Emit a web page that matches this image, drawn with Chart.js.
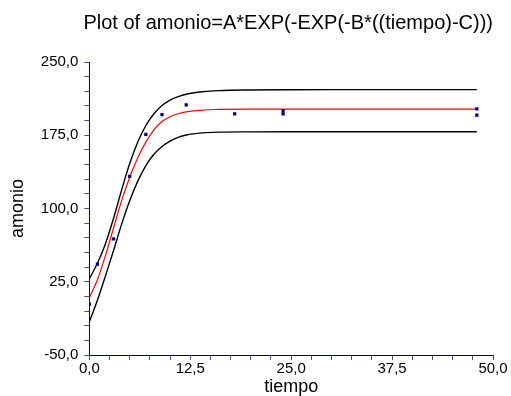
<!DOCTYPE html>
<html>
<head>
<meta charset="utf-8">
<script src="https://cdn.jsdelivr.net/npm/chart.js@4"></script>
<style>
  body { margin: 0; background: #fff; }
  #wrap { width: 511px; height: 396px; }
</style>
</head>
<body>
<div id="wrap"><canvas id="myChart"></canvas></div>
<script>
// observed points
var tiempo = [0, 1, 3, 5, 7, 9, 12, 18, 24, 24, 48, 48];
var amonio = [2, 43, 69, 133, 176, 196, 206, 197, 200, 197, 202, 195.5];

// fitted curve and its bands
var tCurve = [0, 1, 2, 3, 4, 5, 6, 7, 8, 9, 10, 11, 12, 14, 16, 20, 25, 30, 40, 48];
var fitCurve = [8.6, 27, 52, 80, 108, 132, 152, 168, 180.5, 189, 194, 197, 199, 200.8, 201.4, 201.7, 201.8, 201.8, 201.8, 201.8];
var upperCurve = [28, 44, 64, 90, 119, 146, 168, 185, 197, 205.5, 211, 214.5, 217, 219.5, 220.7, 221.4, 221.6, 221.7, 221.7, 221.7];
var lowerCurve = [-16, 6, 31, 57, 84, 108, 128, 144, 155.5, 163.5, 169, 172.8, 175.2, 177.4, 178.2, 178.5, 178.6, 178.6, 178.6, 178.6];

// axis ticks
var xTickStep = 2.5, xLabelStep = 12.5;
var yTickStep = 15, yLabelStep = 75;

function pts(xs, ys) {
    return xs.map(function (x, i) { return { x: x, y: ys[i] }; });
}
function fmt(v) {
    return v.toFixed(1).replace('.', ',');
}
function isStep(v, base, step) {
    var k = (v - base) / step;
    return Math.abs(k - Math.round(k)) < 1e-6;
}

var font = 'Liberation Sans, Arial, sans-serif';
var curveLine = function (data, color, width) {
    return {
        data: data,
        showLine: true,
        borderColor: color,
        borderWidth: width,
        pointRadius: 0,
        cubicInterpolationMode: 'monotone',
        fill: false
    };
};

var ctx = document.getElementById('myChart').getContext('2d');
var myChart = new Chart(ctx, {
    type: 'scatter',
    data: {
        datasets: [
            {
                data: pts(tiempo, amonio),
                backgroundColor: '#000080',
                borderColor: '#000080',
                pointStyle: 'rect',
                pointRadius: 2.3,
                borderWidth: 0
            },
            curveLine(pts(tCurve, fitCurve), '#ff0000', 1.2),
            curveLine(pts(tCurve, upperCurve), '#000000', 1.4),
            curveLine(pts(tCurve, lowerCurve), '#000000', 1.4)
        ]
    },
    options: {
        responsive: true,
        maintainAspectRatio: false,
        animation: false,
        layout: { padding: { top: 10, left: 8, right: 18, bottom: 0 } },
        plugins: {
            legend: { display: false },
            tooltip: { enabled: false },
            title: {
                display: true,
                text: 'Plot of amonio=A*EXP(-EXP(-B*((tiempo)-C)))',
                align: 'end',
                color: '#000',
                font: { family: font, size: 20, weight: 'normal' },
                padding: { top: 1, bottom: 27 }
            }
        },
        scales: {
            x: {
                type: 'linear',
                min: 0,
                max: 50,
                border: { display: true, color: '#000080', width: 1 },
                grid: { drawOnChartArea: false, drawTicks: true, tickLength: 5, color: '#4a4aa0' },
                ticks: {
                    stepSize: xTickStep,
                    autoSkip: false,
                    maxRotation: 0,
                    padding: 0,
                    color: '#000',
                    font: { family: font, size: 15 },
                    callback: function (v) { return isStep(v, 0, xLabelStep) ? fmt(v) : ''; }
                },
                title: {
                    display: true,
                    text: 'tiempo',
                    color: '#000',
                    font: { family: font, size: 18, lineHeight: 1.0 },
                    padding: { top: 0, bottom: 0 }
                }
            },
            y: {
                type: 'linear',
                min: -50,
                max: 250,
                border: { display: true, color: '#000080', width: 1 },
                grid: { drawOnChartArea: false, drawTicks: true, tickLength: 5, color: '#4a4aa0' },
                ticks: {
                    stepSize: yTickStep,
                    autoSkip: false,
                    padding: 6,
                    color: '#000',
                    font: { family: font, size: 15 },
                    callback: function (v) { return isStep(v, -50, yLabelStep) ? fmt(v) : ''; }
                },
                title: {
                    display: true,
                    text: 'amonio',
                    color: '#000',
                    font: { family: font, size: 18, lineHeight: 1.1 },
                    padding: { top: 0, bottom: 7 }
                }
            }
        }
    }
});
</script>
</body>
</html>
